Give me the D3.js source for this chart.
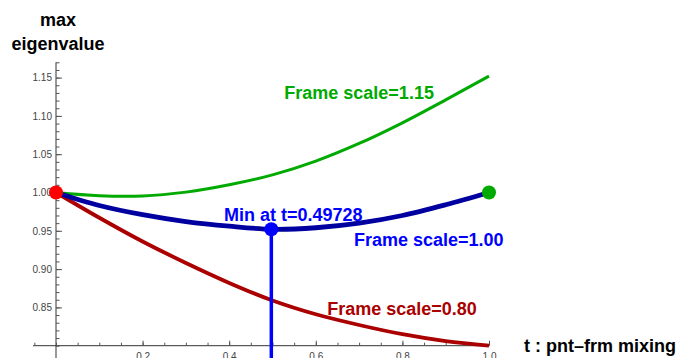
<!DOCTYPE html>
<html>
<head>
<meta charset="utf-8">
<script src="https://cdn.jsdelivr.net/npm/d3@7"></script>
<style>
  body { margin: 0; background: #fff; }
  svg { display: block; font-family: "Liberation Sans", Arial, sans-serif; }
  .tick text { fill: #444; font-size: 10px; }
  .tick line { stroke: #555; }
  .lbl { font-weight: bold; font-size: 18px; }
</style>
</head>
<body>
<svg id="chart" width="683" height="358"></svg>
<script>
// mixing parameter t and max eigenvalue for each frame scale
var tVals = [0, 0.1, 0.2, 0.3, 0.4, 0.5, 0.6, 0.7, 0.8, 0.9, 1.0];
var scale115 = [1.000, 0.9958, 0.9955, 1.0005, 1.010, 1.023, 1.041, 1.064, 1.091, 1.121, 1.152];
var scale100 = [1.000, 0.983, 0.971, 0.962, 0.956, 0.952, 0.954, 0.960, 0.970, 0.984, 1.000];
var scale080 = [1.000, 0.967, 0.936, 0.908, 0.882, 0.859, 0.841, 0.827, 0.815, 0.806, 0.800];

var minT = 0.49728, minV = 0.952;

var xTicks = [0.2, 0.4, 0.6, 0.8, 1.0];
var yTicks = [0.85, 0.90, 0.95, 1.00, 1.05, 1.10, 1.15];

var svg = d3.select("#chart");

var x = d3.scaleLinear().domain([0, 1]).range([56, 489]);
var y = d3.scaleLinear().domain([0.8, 1.15]).range([345.7, 77.6]);

// axis lines (Mathematica style, crossing at {0, 0.8})
svg.append("line")
    .attr("x1", x(-0.053)).attr("x2", x(1))
    .attr("y1", y(0.8)).attr("y2", y(0.8))
    .attr("stroke", "#333").attr("stroke-width", 1);
svg.append("line")
    .attr("x1", x(0)).attr("x2", x(0))
    .attr("y1", y(1.17)).attr("y2", y(0.78))
    .attr("stroke", "#333").attr("stroke-width", 1);

// minor ticks
var xMinor = d3.axisBottom(x)
    .tickValues(d3.range(-0.05, 1.001, 0.05))
    .tickFormat("")
    .tickSize(-3)
    .tickSizeOuter(0);
svg.append("g")
    .attr("transform", "translate(0," + y(0.8) + ")")
    .call(xMinor)
    .call(function(g) { g.select(".domain").remove(); });

var yMinor = d3.axisLeft(y)
    .tickValues(d3.range(0.8, 1.1701, 0.01))
    .tickFormat("")
    .tickSize(-3.5)
    .tickSizeOuter(0);
svg.append("g")
    .attr("transform", "translate(" + x(0) + ",0)")
    .call(yMinor)
    .call(function(g) { g.select(".domain").remove(); });

// major ticks
var xAxis = d3.axisBottom(x)
    .tickValues(xTicks)
    .tickFormat(d3.format(".1f"))
    .tickSize(-5)
    .tickPadding(7)
    .tickSizeOuter(0);
svg.append("g")
    .attr("transform", "translate(0," + y(0.8) + ")")
    .call(xAxis)
    .call(function(g) { g.select(".domain").remove(); });

var yAxis = d3.axisLeft(y)
    .tickValues(yTicks)
    .tickFormat(d3.format(".2f"))
    .tickSize(-6)
    .tickPadding(4)
    .tickSizeOuter(0);
svg.append("g")
    .attr("transform", "translate(" + x(0) + ",0)")
    .call(yAxis)
    .call(function(g) { g.select(".domain").remove(); });

// curves
var line = d3.line()
    .x(function(d) { return x(d[0]); })
    .y(function(d) { return y(d[1]); })
    .curve(d3.curveCatmullRom.alpha(0.5));

function pts(vals) { return tVals.map(function(t, i) { return [t, vals[i]]; }); }

svg.append("path").datum(pts(scale115))
    .attr("d", line).attr("fill", "none")
    .attr("stroke", "#00aa00").attr("stroke-width", 3);
svg.append("path").datum(pts(scale080))
    .attr("d", line).attr("fill", "none")
    .attr("stroke", "#aa0000").attr("stroke-width", 3.8);
svg.append("path").datum(pts(scale100))
    .attr("d", line).attr("fill", "none")
    .attr("stroke", "#0000a0").attr("stroke-width", 4.8);

// minimum marker
svg.append("line")
    .attr("x1", x(minT)).attr("x2", x(minT))
    .attr("y1", y(minV)).attr("y2", y(0.78))
    .attr("stroke", "#0000ff").attr("stroke-width", 3.5);
svg.append("circle")
    .attr("cx", x(minT)).attr("cy", y(minV)).attr("r", 7)
    .attr("fill", "#0000ff");

svg.append("circle")
    .attr("cx", x(1)).attr("cy", y(1)).attr("r", 7)
    .attr("fill", "#00aa00");
svg.append("circle")
    .attr("cx", x(0)).attr("cy", y(1)).attr("r", 7)
    .attr("fill", "#ff0000");

// labels
var labels = [
    {text: "Frame scale=1.15", t: 0.70, v: 1.130, color: "#00aa00"},
    {text: "Min at t=0.49728", t: 0.548, v: 0.9713, color: "#0000ff"},
    {text: "Frame scale=1.00", t: 0.861, v: 0.9386, color: "#0000ff"},
    {text: "Frame scale=0.80", t: 0.799, v: 0.8488, color: "#aa0000"}
];
svg.selectAll(".curve-label")
    .data(labels)
    .enter().append("text")
    .attr("class", "lbl curve-label")
    .attr("x", function(d) { return x(d.t); })
    .attr("y", function(d) { return y(d.v); })
    .attr("dy", "0.35em")
    .attr("text-anchor", "middle")
    .attr("fill", function(d) { return d.color; })
    .text(function(d) { return d.text; });

// axis titles
svg.append("text").attr("class", "lbl")
    .attr("x", 58).attr("y", 26).attr("text-anchor", "middle")
    .text("max");
svg.append("text").attr("class", "lbl")
    .attr("x", 58).attr("y", 49.5).attr("text-anchor", "middle")
    .text("eigenvalue");
svg.append("text").attr("class", "lbl")
    .attr("x", 524).attr("y", 352)
    .text("t : pnt\u2013frm mixing");
</script>
</body>
</html>
